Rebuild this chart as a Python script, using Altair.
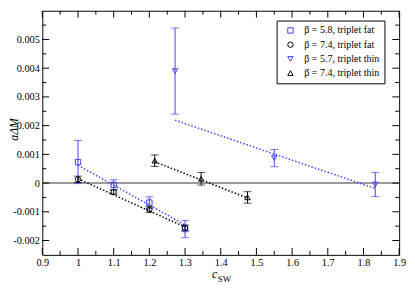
import altair as alt
import pandas as pd

# ---- data ----
series_names = ["β = 5.8, triplet fat", "β = 7.4, triplet fat",
                "β = 5.7, triplet thin", "β = 7.4, triplet thin"]
blue_series = ["β = 5.8, triplet fat", "β = 5.7, triplet thin"]
black_series = ["β = 7.4, triplet fat", "β = 7.4, triplet thin"]

fat58_x = [1.0, 1.1, 1.2, 1.3]
fat58_y = [0.00073, -0.00006, -0.00068, -0.0016]
fat58_e = [0.00075, 0.00018, 0.0002, 0.0003]

fat74_x = [1.0, 1.1, 1.2, 1.3]
fat74_y = [0.00013, -0.00031, -0.00092, -0.00156]
fat74_e = [0.00011, 0.00008, 0.0001, 0.0001]

thin57_x = [1.272, 1.55, 1.833]
thin57_y = [0.0039, 0.00087, -0.00005]
thin57_e = [0.0015, 0.0003, 0.00042]

thin74_x = [1.215, 1.345, 1.475]
thin74_y = [0.00078, 0.00015, -0.0005]
thin74_e = [0.0002, 0.00022, 0.0002]

# fit lines (end points)
fit58_x = [1.0, 1.3]
fit58_y = [0.00062, -0.00146]
fit74f_x = [1.0, 1.3]
fit74f_y = [0.00015, -0.00153]
fit57_x = [1.272, 1.833]
fit57_y = [0.00219, -0.00019]
fit74t_x = [1.215, 1.475]
fit74t_y = [0.00074, -0.00052]

x_labels = [0.9, 1.0, 1.1, 1.2, 1.3, 1.4, 1.5, 1.6, 1.7, 1.8, 1.9]
x_minor = [0.95, 1.05, 1.15, 1.25, 1.35, 1.45, 1.55, 1.65, 1.75, 1.85]
y_labels = [-0.002, -0.001, 0, 0.001, 0.002, 0.003, 0.004, 0.005]
y_minor = [-0.0015, -0.0005, 0.0005, 0.0015, 0.0025, 0.0035, 0.0045, 0.0055]

# ---- tables ----
rows = []
for name, xs, ys, es in zip(series_names,
                            [fat58_x, fat74_x, thin57_x, thin74_x],
                            [fat58_y, fat74_y, thin57_y, thin74_y],
                            [fat58_e, fat74_e, thin57_e, thin74_e]):
    for x, y, e in zip(xs, ys, es):
        rows.append({"series": name, "x": x, "y": y, "lo": y - e, "hi": y + e})
pts = pd.DataFrame(rows)

frows = []
for name, xs, ys in zip(series_names,
                        [fit58_x, fit74f_x, fit57_x, fit74t_x],
                        [fit58_y, fit74f_y, fit57_y, fit74t_y]):
    for x, y in zip(xs, ys):
        frows.append({"series": name, "x": x, "y": y})
fits = pd.DataFrame(frows)

W, H = 364, 249
BLUE = "#4040ff"
FONT = "Liberation Serif, Times New Roman, DejaVu Serif, serif"

xscale = alt.Scale(domain=[0.9, 1.9], nice=False, zero=False)
yscale = alt.Scale(domain=[-0.0025, 0.006], nice=False, zero=False)
cscale = alt.Scale(domain=series_names, range=[BLUE, "black", BLUE, "black"])
sscale = alt.Scale(domain=series_names,
                   range=["square", "circle", "triangle-down", "triangle-up"])

xaxis = alt.Axis(values=x_labels, labelExpr="'' + datum.value", labelOverlap=False, title=None)
yaxis = alt.Axis(values=y_labels, labelExpr="'' + datum.value", labelOverlap=False, title=None)


def X(field):
    return alt.X(field, scale=xscale, axis=xaxis)


def Y(field):
    return alt.Y(field, scale=yscale, axis=yaxis)


zero = alt.Chart(pd.DataFrame({"z": [0.0]})).mark_rule(color="#7a7a7a", strokeWidth=1.5).encode(
    y=Y("z:Q"))


def group_layers(names, color):
    src_f = alt.Chart(fits).transform_filter(alt.FieldOneOfPredicate(field="series", oneOf=names))
    src_p = alt.Chart(pts).transform_filter(alt.FieldOneOfPredicate(field="series", oneOf=names))
    line = src_f.mark_line(strokeDash=[1.5, 2], strokeWidth=1.5, color=color).encode(
        x=X("x:Q"), y=Y("y:Q"), detail="series:N")
    bar = src_p.mark_rule(strokeWidth=1, color=color).encode(
        x=X("x:Q"), y=Y("lo:Q"), y2="hi:Q")
    lo = src_p.mark_tick(orient="horizontal", size=8, thickness=1, color=color).encode(
        x=X("x:Q"), y=Y("lo:Q"))
    hi = src_p.mark_tick(orient="horizontal", size=8, thickness=1, color=color).encode(
        x=X("x:Q"), y=Y("hi:Q"))
    return [line, bar, lo, hi]


legend = alt.Legend(orient="none", legendX=239, legendY=10, title=None,
                    strokeColor="black", fillColor="white", padding=5,
                    rowPadding=3.5, labelOffset=9, symbolOffset=4, symbolSize=30,
                    symbolStrokeWidth=1, labelFont=FONT, labelFontSize=10.2,
                    labelColor="black", labelLimit=300, cornerRadius=0)

points = alt.Chart(pts).mark_point(filled=False, size=30, strokeWidth=1, opacity=1).encode(
    x=X("x:Q"), y=Y("y:Q"),
    color=alt.Color("series:N", scale=cscale, legend=legend, sort=series_names),
    shape=alt.Shape("series:N", scale=sscale, legend=legend, sort=series_names))

# inward tick marks (all four sides)
yt_major = pd.DataFrame({"v": y_labels})
yt_minor = pd.DataFrame({"v": y_minor})
xt_major = pd.DataFrame({"v": x_labels})
xt_minor = pd.DataFrame({"v": x_minor})


def ytick(df, x0, x1):
    return alt.Chart(df).mark_rule(color="black", strokeWidth=1).encode(
        y=Y("v:Q"), x=alt.value(x0), x2=alt.value(x1))


def xtick(df, y0, y1):
    return alt.Chart(df).mark_rule(color="black", strokeWidth=1).encode(
        x=X("v:Q"), y=alt.value(y0), y2=alt.value(y1))


ticks = [
    ytick(yt_major, 0, 7), ytick(yt_minor, 0, 4),
    ytick(yt_major, W - 7, W), ytick(yt_minor, W - 4, W),
    xtick(xt_major, H, H - 7), xtick(xt_minor, H, H - 4),
    xtick(xt_major, 0, 7), xtick(xt_minor, 0, 4),
]

ytitle = alt.Chart(pd.DataFrame({"t": ["aΔM"]})).mark_text(
    font=FONT, fontSize=12, fontStyle="italic", angle=270, align="center",
    baseline="middle", color="black").encode(
    text="t:N", x=alt.value(-29), y=alt.value(121))

xtitle_c = alt.Chart(pd.DataFrame({"t": ["c"]})).mark_text(
    font=FONT, fontSize=12, fontStyle="italic", align="left",
    baseline="alphabetic", color="black").encode(
    text="t:N", x=alt.value(173), y=alt.value(273))
xtitle_sw = alt.Chart(pd.DataFrame({"t": ["SW"]})).mark_text(
    font=FONT, fontSize=9, align="left", baseline="alphabetic", color="black").encode(
    text="t:N", x=alt.value(179), y=alt.value(277))

chart = alt.layer(zero, *group_layers(blue_series, BLUE), *group_layers(black_series, "black"),
                  points, *ticks, ytitle, xtitle_c, xtitle_sw).properties(
    width=W, height=H,
    autosize=alt.AutoSizeParams(type="none"),
    padding={"left": 35, "top": 0, "right": 8, "bottom": 32},
).configure_view(stroke="black", strokeWidth=1).configure_axis(
    ticks=False, tickSize=0, domain=False, grid=False, labelFont=FONT,
    labelFontSize=10.5, labelColor="black", labelPadding=3, labelOverlap=False,
    labelBound=False, labelFlush=False, title=None)

chart.save("out.html", embed_options={"renderer": "svg", "actions": False})
